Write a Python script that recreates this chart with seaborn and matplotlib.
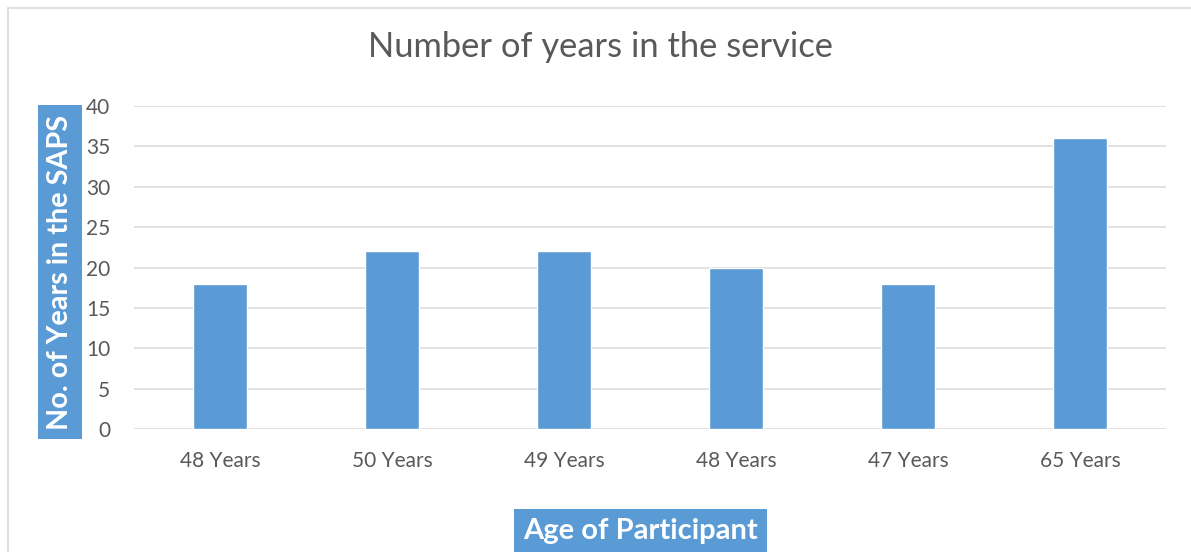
import matplotlib
matplotlib.use("Agg")
import matplotlib.pyplot as plt
from matplotlib.lines import Line2D
import seaborn as sns
import pandas as pd

# Data
age_labels = ["48 Years", "50 Years", "49 Years", "48 Years", "47 Years", "65 Years"]
years_in_saps = [18, 22, 22, 20, 18, 36]
participant_ids = ["P1", "P2", "P3", "P4", "P5", "P6"]
y_ticks = [0, 5, 10, 15, 20, 25, 30, 35, 40]

BAR = "#5B9BD5"
GRID = "#D9D9D9"
TXT = "#595959"
FONT = "Lato"

sns.set_theme(style="white")
plt.rcParams["font.family"] = [FONT, "DejaVu Sans"]

W, H = 1191, 552
fig = plt.figure(figsize=(W / 100, H / 100), dpi=100)
ax = fig.add_axes([134 / W, 1 - 429 / H, (1166 - 134) / W, (429 - 106) / H])

df = pd.DataFrame({"participant": participant_ids, "years": years_in_saps})
sns.barplot(data=df, x="participant", y="years", color=BAR, width=0.315,
            saturation=1, ax=ax, zorder=3)

ax.set_xlim(-0.5, len(participant_ids) - 0.5)
ax.set_ylim(0, 40)
ax.set_yticks(y_ticks)
ax.set_xticks(range(len(age_labels)))
ax.set_xticklabels(age_labels)
for s in ax.spines.values():
    s.set_visible(False)
ax.grid(False)
for t in y_ticks:
    ax.axhline(t, color=GRID, lw=1.1, zorder=1)

ax.tick_params(axis="x", length=0, pad=16, labelsize=15, labelcolor=TXT)
ax.tick_params(axis="y", length=0, pad=17, labelsize=15, labelcolor=TXT)

ax.set_title("Number of years in the service", fontsize=24.8, color=TXT,
             x=(601 - 134) / 1032, y=(429 - 55) / 323, va="center")

ax.set_ylabel("No. of Years in the SAPS", fontsize=20.7, fontweight="bold",
              color="white", va="center", ha="center",
              bbox=dict(boxstyle="square,pad=0.32", fc=BAR, ec="none"))
ax.yaxis.set_label_coords((60 - 134) / 1032, (429 - 272) / 323)

ax.set_xlabel("Age of Participant", fontsize=21, fontweight="bold",
              color="white", va="center", ha="center",
              bbox=dict(boxstyle="square,pad=0.3", fc=BAR, ec="none"))
ax.xaxis.set_label_coords((640.5 - 134) / 1032, (429 - 531) / 323)

# outer chart border
fig.add_artist(Line2D([7.5 / W, 7.5 / W], [0, 1 - 7.5 / H], color=GRID, lw=1.2,
                      transform=fig.transFigure))
fig.add_artist(Line2D([7.5 / W, 1], [1 - 7.5 / H, 1 - 7.5 / H], color=GRID, lw=1.2,
                      transform=fig.transFigure))

fig.savefig("out.png", dpi=100)
